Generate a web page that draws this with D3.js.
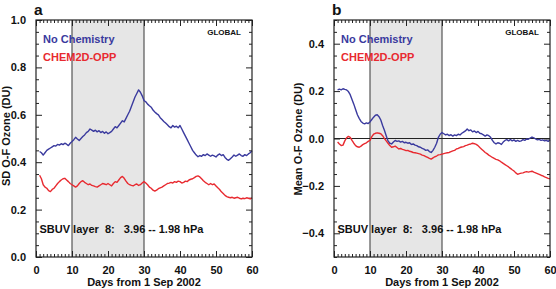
<!DOCTYPE html>
<html><head><meta charset="utf-8">
<script src="https://cdn.jsdelivr.net/npm/d3@7"></script>
<style>
body{margin:0;background:#fff;}
svg text{font-family:"Liberation Sans",Arial,sans-serif;font-weight:bold;}
</style></head>
<body><svg id="c" width="556" height="289"></svg>
<script>
// Days: series start at day 1, one value every half day up to day 60
const dayStart = 1, dayStep = 0.5;
const xTicks = [0,10,20,30,40,50,60];
const yTicksA = [0.0,0.2,0.4,0.6,0.8,1.0];
const yTicksB = [-0.4,-0.2,0.0,0.2,0.4];
const shadeDays = [10,30];
const seriesNames = ["No Chemistry","CHEM2D-OPP"];

const sdNoChem = [0.445,0.44,0.43,0.44,0.45,0.455,0.46,0.465,0.47,0.468,0.475,0.472,0.478,0.474,0.48,0.476,0.47,0.48,0.487,0.495,
0.505,0.498,0.492,0.5,0.508,0.515,0.525,0.53,0.54,0.535,0.53,0.535,0.528,0.533,0.525,0.53,0.522,0.528,0.52,0.525,
0.53,0.54,0.55,0.545,0.555,0.565,0.575,0.57,0.585,0.6,0.615,0.635,0.655,0.675,0.69,0.705,0.695,0.68,0.66,0.655,
0.645,0.638,0.632,0.62,0.612,0.605,0.6,0.588,0.58,0.572,0.565,0.558,0.55,0.545,0.555,0.548,0.552,0.545,0.555,0.54,
0.525,0.51,0.495,0.48,0.465,0.45,0.44,0.43,0.423,0.428,0.425,0.432,0.428,0.435,0.43,0.425,0.43,0.427,0.422,0.43,
0.435,0.428,0.432,0.42,0.412,0.408,0.415,0.422,0.43,0.425,0.43,0.435,0.428,0.425,0.432,0.428,0.435,0.44,0.448];

const sdChem = [0.345,0.33,0.305,0.295,0.29,0.28,0.276,0.285,0.29,0.3,0.31,0.318,0.325,0.33,0.332,0.325,0.318,0.31,0.305,0.3,
0.295,0.3,0.31,0.318,0.322,0.315,0.31,0.305,0.308,0.302,0.3,0.297,0.295,0.3,0.305,0.31,0.308,0.305,0.31,0.305,
0.3,0.31,0.318,0.315,0.325,0.335,0.34,0.332,0.32,0.31,0.305,0.302,0.3,0.305,0.308,0.302,0.305,0.312,0.318,0.312,
0.305,0.295,0.29,0.282,0.278,0.282,0.288,0.292,0.295,0.3,0.305,0.31,0.312,0.315,0.312,0.318,0.315,0.32,0.318,0.312,
0.315,0.32,0.318,0.325,0.328,0.33,0.335,0.34,0.342,0.338,0.33,0.322,0.315,0.31,0.305,0.31,0.305,0.308,0.3,0.292,
0.285,0.275,0.268,0.26,0.255,0.252,0.25,0.252,0.248,0.25,0.252,0.248,0.245,0.248,0.246,0.25,0.248,0.245,0.25];

const meanNoChem = [0.205,0.208,0.205,0.21,0.207,0.205,0.198,0.185,0.165,0.145,0.122,0.1,0.085,0.072,0.065,0.062,0.066,0.063,0.07,0.08,
0.09,0.098,0.1,0.092,0.078,0.055,0.035,0.012,-0.01,-0.02,-0.023,-0.015,-0.008,-0.012,-0.01,-0.015,-0.012,-0.018,-0.016,-0.02,
-0.018,-0.025,-0.023,-0.028,-0.03,-0.035,-0.037,-0.042,-0.045,-0.05,-0.048,-0.055,-0.059,-0.05,-0.037,-0.02,0.005,0.018,0.025,0.02,
0.015,0.018,0.012,0.016,0.01,0.015,0.012,0.018,0.015,0.022,0.027,0.032,0.04,0.033,0.036,0.028,0.032,0.025,0.03,0.022,
0.02,0.015,0.01,0.015,0.012,0.005,-0.008,-0.018,-0.023,-0.018,-0.02,-0.025,-0.015,-0.008,-0.005,-0.01,-0.004,-0.01,-0.006,-0.012,
-0.008,-0.012,-0.01,-0.005,-0.008,-0.002,-0.003,0.002,0.006,0.003,-0.002,-0.006,-0.004,-0.008,-0.006,-0.01,-0.008,-0.012,-0.006];

const meanChem = [-0.015,-0.023,-0.03,-0.028,-0.01,0.003,0.009,0.005,-0.008,-0.02,-0.03,-0.035,-0.037,-0.032,-0.026,-0.022,-0.018,-0.012,-0.008,0.008,
0.018,0.022,0.024,0.022,0.02,0.012,0,-0.01,-0.02,-0.03,-0.037,-0.035,-0.032,-0.038,-0.044,-0.042,-0.046,-0.048,-0.051,-0.05,
-0.054,-0.056,-0.059,-0.06,-0.062,-0.064,-0.066,-0.07,-0.072,-0.076,-0.08,-0.084,-0.087,-0.082,-0.077,-0.074,-0.069,-0.068,-0.066,-0.064,
-0.062,-0.06,-0.059,-0.055,-0.052,-0.05,-0.044,-0.042,-0.038,-0.036,-0.034,-0.03,-0.028,-0.025,-0.023,-0.02,-0.022,-0.025,-0.03,-0.038,
-0.045,-0.052,-0.059,-0.064,-0.07,-0.075,-0.08,-0.084,-0.088,-0.09,-0.094,-0.1,-0.105,-0.11,-0.115,-0.12,-0.126,-0.132,-0.137,-0.145,
-0.151,-0.148,-0.146,-0.145,-0.142,-0.14,-0.142,-0.14,-0.138,-0.142,-0.145,-0.148,-0.151,-0.155,-0.158,-0.162,-0.165,-0.168,-0.17];

const BLUE = "#3a3a9e", RED = "#e82a30";
const svg = d3.select("#c");

function panel(o){
  const g = svg.append("g");
  const x = d3.scaleLinear().domain([0,60]).range([o.left,o.right]);
  const y = d3.scaleLinear().domain(o.ydom).range([o.bottom,o.top]);
  g.append("rect").attr("x",x(shadeDays[0])).attr("y",o.top)
    .attr("width",x(shadeDays[1])-x(shadeDays[0])).attr("height",o.bottom-o.top)
    .attr("fill","#e6e6e6");
  shadeDays.forEach(d=>g.append("line").attr("x1",x(d)).attr("x2",x(d))
    .attr("y1",o.top).attr("y2",o.bottom).attr("stroke","#555").attr("stroke-width",1.2));
  if(o.zero){
    g.append("line").attr("x1",o.left).attr("x2",o.right).attr("y1",y(0)).attr("y2",y(0))
      .attr("stroke","#222").attr("stroke-width",1.2);
  }
  const minorX = d3.range(0,61,1).filter(v=>v%10!==0);
  const minorY = d3.range(Math.round(o.ydom[0]*20),Math.round(o.ydom[1]*20)+1).map(v=>v/20)
      .filter(v=>!o.yticks.some(t=>Math.abs(t-v)<1e-9));
  const styleAx = s=>{s.select(".domain").remove(); s.selectAll("line").attr("stroke","#222");};
  g.append("g").attr("transform",`translate(0,${o.bottom})`)
    .call(d3.axisBottom(x).tickValues(xTicks).tickSize(-6).tickPadding(9).tickFormat(d3.format("d")))
    .call(styleAx).call(s=>s.selectAll("text").attr("font-size",11).attr("fill","#111"));
  g.append("g").attr("transform",`translate(0,${o.bottom})`)
    .call(d3.axisBottom(x).tickValues(minorX).tickSize(-3).tickFormat(""))
    .call(styleAx);
  g.append("g").attr("transform",`translate(0,${o.top})`)
    .call(d3.axisTop(x).tickValues(xTicks).tickSize(-6).tickFormat(""))
    .call(styleAx);
  g.append("g").attr("transform",`translate(0,${o.top})`)
    .call(d3.axisTop(x).tickValues(minorX).tickSize(-3).tickFormat(""))
    .call(styleAx);
  g.append("g").attr("transform",`translate(${o.left},0)`)
    .call(d3.axisLeft(y).tickValues(o.yticks).tickSize(-6).tickPadding(10).tickFormat(d3.format(".1f")))
    .call(styleAx).call(s=>s.selectAll("text").attr("font-size",11).attr("fill","#111"));
  g.append("g").attr("transform",`translate(${o.left},0)`)
    .call(d3.axisLeft(y).tickValues(minorY).tickSize(-3).tickFormat(""))
    .call(styleAx);
  g.append("g").attr("transform",`translate(${o.right},0)`)
    .call(d3.axisRight(y).tickValues(o.yticks).tickSize(-6).tickFormat(""))
    .call(styleAx);
  g.append("g").attr("transform",`translate(${o.right},0)`)
    .call(d3.axisRight(y).tickValues(minorY).tickSize(-3).tickFormat(""))
    .call(styleAx);
  const line = d3.line().x((d,i)=>x(dayStart+i*dayStep)).y(d=>y(d));
  [[o.s1,BLUE],[o.s2,RED]].forEach(([s,c])=>{
    g.append("path").datum(s).attr("d",line).attr("fill","none")
      .attr("stroke",c).attr("stroke-width",1.4).attr("stroke-linejoin","round");
  });
  g.append("rect").attr("x",o.left).attr("y",o.top).attr("width",o.right-o.left)
    .attr("height",o.bottom-o.top).attr("fill","none").attr("stroke","#222").attr("stroke-width",1.2);
  g.append("text").attr("x",o.left-2).attr("y",14.5).attr("font-size",15.5).attr("fill","#111").text(o.letter);
  g.append("text").attr("x",o.left+7).attr("y",43).attr("font-size",11).attr("fill",BLUE).text(seriesNames[0]);
  g.append("text").attr("x",o.left+7).attr("y",61).attr("font-size",11).attr("fill",RED).text(seriesNames[1]);
  g.append("text").attr("x",o.right-11).attr("y",35).attr("font-size",8).attr("text-anchor","end").attr("fill","#111").text("GLOBAL");
  g.append("text").attr("x",o.left+3.5).attr("y",o.bottom-24).attr("font-size",11).attr("fill","#111")
    .attr("xml:space","preserve").style("white-space","pre").text("SBUV layer  8:   3.96 -- 1.98 hPa");
  g.append("text").attr("x",(o.left+o.right)/2).attr("y",286).attr("font-size",11).attr("text-anchor","middle")
    .attr("fill","#111").text("Days from 1 Sep 2002");
  g.append("text").attr("transform",`translate(${o.ytx},${o.yty}) rotate(-90)`).attr("font-size",11)
    .attr("text-anchor","middle").attr("fill","#111").text(o.ytitle);
}

panel({left:36,right:252,top:20,bottom:257,ydom:[0,1],yticks:yTicksA,s1:sdNoChem,s2:sdChem,
  letter:"a",ytitle:"SD O-F Ozone (DU)",ytx:10,yty:136,zero:false});
panel({left:334,right:550,top:20,bottom:257,ydom:[-0.5,0.5],yticks:yTicksB,s1:meanNoChem,s2:meanChem,
  letter:"b",ytitle:"Mean O-F Ozone (DU)",ytx:302,yty:139,zero:true});
</script></body></html>
